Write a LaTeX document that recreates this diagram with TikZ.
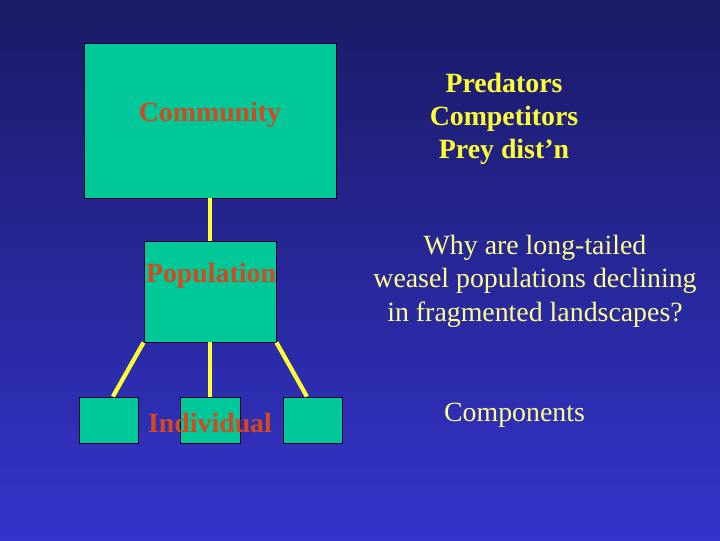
\documentclass[tikz,border=0pt]{standalone}
\usepackage{fontspec}
\setmainfont{Liberation Serif}
\usetikzlibrary{calc}
\definecolor{bgtop}{RGB}{26,26,102}
\definecolor{bgbot}{RGB}{52,52,204}
\definecolor{boxgreen}{RGB}{0,200,152}
\definecolor{lblred}{RGB}{214,72,30}
\definecolor{brightyel}{RGB}{255,255,51}
\definecolor{paleyel}{RGB}{255,255,140}
\tikzset{
  box/.style = {draw=black!85!blue, fill=boxgreen, line width=0.6pt, inner sep=0pt},
  lbl/.style = {text=lblred, font=\fontsize{19.8}{23.4}\selectfont\bfseries, anchor=base, inner sep=0pt},
  note/.style = {text=brightyel, font=\fontsize{19.8}{23.4}\selectfont\bfseries, align=center, anchor=base, inner sep=0pt},
  question/.style = {text=paleyel, font=\fontsize{19.8}{23.8}\selectfont, align=center, anchor=base, inner sep=0pt},
  link/.style = {draw=brightyel, line width=3pt}
}

\begin{document}
\begin{tikzpicture}[x=0.025cm,y=-0.025cm]
  \shade[top color=bgtop, bottom color=bgbot] (0,0) rectangle (720,540);
  \useasboundingbox (0,0) rectangle (720,540);
  % boxes
  \node[box, minimum width=6.3cm, minimum height=3.875cm] (community) at (210,120.5) {};
  \node[box, minimum width=3.3cm, minimum height=2.525cm] (population) at (210,291.5) {};
  \node[box, minimum width=1.475cm, minimum height=1.15cm] (ileft) at (108.5,420) {};
  \node[box, minimum width=1.5cm, minimum height=1.15cm] (imid) at (210,420) {};
  \node[box, minimum width=1.475cm, minimum height=1.15cm] (iright) at (312.5,420) {};
  % links
  \draw[link] (community.south) -- (population.north);
  \draw[link] (population.south west) -- ([xshift=0.11cm]ileft.north);
  \draw[link] (population.south) -- (imid.north);
  \draw[link] (population.south east) -- ([xshift=-0.14cm]iright.north);
  % labels
  \node[lbl] (communitytxt) at (210,121) {Community};
  \node[lbl] (populationtxt) at (211,282) {Population};
  \node[lbl] (individualtxt) at (210,432) {Individual};
  \node[note] (factors) at (504,158.5) {Predators\\Competitors\\Prey dist’n};
  \node[question] (why) at (535,321) {Why are long-tailed\\weasel populations declining\\in fragmented landscapes?};
  \node[question] (components) at (514.5,421) {Components};
\end{tikzpicture}
\end{document}
